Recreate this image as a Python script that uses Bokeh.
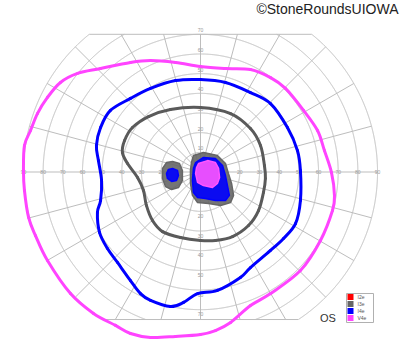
import numpy as np
from bokeh.plotting import figure
from bokeh.models import Range1d
from bokeh.embed import file_html
from bokeh.resources import INLINE
from bokeh.core.properties import value

# ---------------- data (degrees of visual field, x = horizontal, y = vertical) -------------
RINGS = [10, 20, 30, 40, 50, 60, 70, 80, 90]
MERIDIANS = list(range(0, 360, 15))
H_TICKS = [20, 30, 40, 50, 60, 70, 80, 90]
V_TICKS = [10, 20, 30, 40, 50, 60, 70]

V4E_X = [-89.5, -86.4, -82.9, -77.8, -71.2, -62.5, -50.8, -35.6, -25.4, -12.7, 0.0, 12.7, 25.4,
         35.6, 43.2, 52.4, 59.5, 63.0, 66.6, 68.1, 67.1, 61.0, 50.8, 35.6, 25.4, 15.3, 7.6, 0.0,
         -12.7, -25.4, -35.6, -43.2, -54.4, -66.1, -77.8, -83.9, -87.4, -89.5, -90.0]
V4E_Y = [13.5, 21.1, 29.7, 37.9, 45.5, 50.1, 52.6, 55.7, 56.7, 55.7, 53.6, 52.6, 52.1,
         48.0, 42.5, 31.3, 21.1, 10.9, -0.3, -11.9, -19.6, -34.8, -50.1, -61.8, -67.9, -76.5, -80.6, -82.6,
         -83.6, -84.1, -82.1, -78.0, -71.9, -61.8, -45.0, -32.3, -23.1, -9.4, 0.8]

I4E_X = [-35.6, -25.4, -12.7, 0.0, 12.7, 25.4, 35.6, 44.2, 49.3, 50.8, 50.8, 48.3, 42.2, 35.6,
         25.4, 20.3, 8.6, -1.5, -8.6, -15.3, -25.4, -30.5, -35.6, -42.2, -47.3, -51.3, -52.4,
         -50.8, -50.3, -51.9, -52.9, -50.8, -45.8]
I4E_Y = [37.4, 42.5, 46.5, 47.0, 45.5, 40.4, 34.8, 22.6, 10.9, 0.8, -14.5, -26.2, -33.8, -39.9,
         -48.6, -53.6, -60.2, -61.8, -66.3, -68.4, -65.3, -61.8, -55.2, -46.0, -38.9, -30.8, -20.6,
         -14.5, -4.3, 5.8, 13.5, 22.6, 31.3]

I3E_X = [0.0, 15.3, 25.4, 30.5, 32.5, 33.0, 32.0, 29.5, 24.4, 16.3, 7.6, 0.0, -10.2, -19.3,
         -24.4, -27.5, -29.0, -32.0, -37.1, -39.7, -38.6, -34.6, -26.4, -15.3]
I3E_Y = [32.8, 29.7, 22.1, 13.5, 3.3, -3.3, -10.4, -19.6, -27.2, -32.8, -34.8, -34.8, -33.3, -30.3,
         -24.7, -17.0, -9.4, -2.8, 4.3, 9.9, 16.0, 22.6, 28.2, 31.8]

# scotomas
I3E_BLIND_X = [-14.2, -10.7, -9.2, -9.2, -11.2, -14.7, -17.8, -19.3, -19.3, -17.3]
I3E_BLIND_Y = [5.3, 4.3, 0.8, -4.3, -7.9, -8.9, -7.4, -3.3, 1.8, 4.8]
I4E_BLIND_X = [-14.2, -11.7, -11.2, -12.2, -14.7, -16.8, -17.3, -16.3]
I4E_BLIND_Y = [1.8, 0.8, -1.8, -4.3, -4.8, -3.3, -0.8, 1.3]

I3E_CENTRAL_X = [-3.6, 1.5, 8.6, 12.7, 14.2, 15.8, 16.8, 15.3, 10.2, 4.1, -1.5, -4.1, -5.1, -5.1, -4.6]
I3E_CENTRAL_Y = [8.4, 9.9, 8.4, 4.3, -0.8, -5.8, -11.9, -15.5, -17.0, -16.0, -15.5, -11.9, -5.8, 0.8, 4.8]
I4E_CENTRAL_X = [-2.5, 1.5, 7.6, 11.2, 12.7, 13.7, 14.7, 12.7, 7.6, 2.5, -1.5, -3.6, -4.1, -3.6]
I4E_CENTRAL_Y = [4.8, 7.4, 6.9, 3.3, -1.8, -6.9, -11.9, -14.5, -14.5, -13.5, -13.0, -10.4, -4.3, 1.8]
V4E_CENTRAL_X = [-1.0, 3.6, 7.6, 9.2, 9.7, 8.6, 6.1, 1.5, -1.5, -2.5, -2.0]
V4E_CENTRAL_Y = [4.3, 5.8, 4.8, 1.8, -2.8, -5.8, -7.9, -6.9, -5.3, -0.8, 2.3]

LEGEND_LABELS = ["I2e", "I3e", "I4e", "V4e"]
LEGEND_COLORS = ["#ff0000", "#666666", "#0000ff", "#ff44ff"]
EYE = "OS"
CREDIT = "\u00a9StoneRoundsUIOWA"

# ---------------- layout -------------
W, H = 400, 352
S = 1.967            # pixels per degree
CX, CY = 200.0, 171.5
TOP, BOTTOM, OUTER = 70.0, 75.0, 90.0

def dx(px):
    return (px - CX) / S

def dy(py):
    return (CY - py) / S

p = figure(width=W, height=H, x_range=Range1d(dx(0), dx(W)), y_range=Range1d(dy(H), dy(0)),
           output_backend="svg", toolbar_location=None, min_border=0,
           x_axis_type=None, y_axis_type=None)
p.outline_line_color = None
p.background_fill_color = "white"
p.border_fill_color = "white"

FONT = value("Liberation Sans")
GRID = "#bdbdbd"
LBL = "#9a9a9a"

# grid
gx, gy = [], []
t = np.linspace(0, 2 * np.pi, 2881)
for r in RINGS:
    x = r * np.cos(t)
    y = r * np.sin(t)
    ok = (y <= TOP + 1e-9) & (y >= -BOTTOM - 1e-9)
    start = None
    for i, v in enumerate(ok):
        if v and start is None:
            start = i
        if (not v or i == len(ok) - 1) and start is not None:
            end = i + 1 if v else i
            gx.append(list(x[start:end]))
            gy.append(list(y[start:end]))
            start = None
for a in MERIDIANS:
    th = np.radians(a)
    sn = np.sin(th)
    rmax = OUTER
    if sn > 1e-9:
        rmax = min(rmax, TOP / sn)
    if sn < -1e-9:
        rmax = min(rmax, BOTTOM / -sn)
    gx.append([0, rmax * np.cos(th)])
    gy.append([0, rmax * np.sin(th)])
xt = np.sqrt(OUTER ** 2 - TOP ** 2)
xb = np.sqrt(OUTER ** 2 - BOTTOM ** 2)
gx += [[-xt, xt], [-xb, xb]]
gy += [[TOP, TOP], [-BOTTOM, -BOTTOM]]
p.multi_line(gx, gy, line_color=GRID, line_width=1)

# tick labels
hx = [-t for t in H_TICKS] + H_TICKS
p.text(x=hx, y=[0] * len(hx), text=[str(t) for t in H_TICKS] * 2, text_font=FONT,
       text_font_size="5px", text_align="center", text_baseline="middle", text_color=LBL)
vy = [t + 2.0 for t in V_TICKS] + [-(t + 2.3) for t in V_TICKS]
p.text(x=[0] * len(vy), y=vy, text=[str(t) for t in V_TICKS] * 2, text_font=FONT,
       text_font_size="5px", text_align="center", text_baseline="middle", text_color=LBL)


def smooth_closed(xs, ys):
    """Bezier control points (Catmull-Rom) for a closed curve through the read points."""
    px = np.array(xs, float)
    py = np.array(ys, float)
    n = len(px)
    x0, y0, x1, y1, cx0, cy0, cx1, cy1 = ([] for _ in range(8))
    for i in range(n):
        a, b, c, d = (i - 1) % n, i, (i + 1) % n, (i + 2) % n
        x0.append(px[b]); y0.append(py[b]); x1.append(px[c]); y1.append(py[c])
        cx0.append(px[b] + (px[c] - px[a]) / 6); cy0.append(py[b] + (py[c] - py[a]) / 6)
        cx1.append(px[c] - (px[d] - px[b]) / 6); cy1.append(py[c] - (py[d] - py[b]) / 6)
    return dict(x0=x0, y0=y0, x1=x1, y1=y1, cx0=cx0, cy0=cy0, cx1=cx1, cy1=cy1)


def closed(a):
    return list(a) + [a[0]]

# scotoma fills
FILL_A = 0.9
p.patch(closed(I3E_BLIND_X), closed(I3E_BLIND_Y), fill_color="#666666", fill_alpha=FILL_A,
        line_color="#666666", line_width=1.5, line_join="round")
p.patch(closed(I4E_BLIND_X), closed(I4E_BLIND_Y), fill_color="#0000ff", fill_alpha=FILL_A,
        line_color="#0000ff", line_width=1.5, line_join="round")
p.patch(closed(I3E_CENTRAL_X), closed(I3E_CENTRAL_Y), fill_color="#666666", fill_alpha=FILL_A,
        line_color="#666666", line_width=1.5, line_join="round")
p.patch(closed(I4E_CENTRAL_X), closed(I4E_CENTRAL_Y), fill_color="#0000ff", fill_alpha=FILL_A,
        line_color="#0000ff", line_width=1.5, line_join="round")
p.patch(closed(V4E_CENTRAL_X), closed(V4E_CENTRAL_Y), fill_color="#ff55ff", fill_alpha=FILL_A,
        line_color="#ff55ff", line_width=1.5, line_join="round")

# isopters (smooth curves through the read points)
for xs, ys, col in [(I3E_X, I3E_Y, "#5a5a5a"), (I4E_X, I4E_Y, "#0000ff"), (V4E_X, V4E_Y, "#ff44ff")]:
    b = smooth_closed(xs, ys)
    p.bezier(x0=b["x0"], y0=b["y0"], x1=b["x1"], y1=b["y1"], cx0=b["cx0"], cy0=b["cy0"],
             cx1=b["cx1"], cy1=b["cy1"], line_color=col, line_width=3, line_cap="round")

# legend box
p.quad(left=dx(346), right=dx(373), top=dy(293), bottom=dy(322), fill_color="white",
       line_color="#b0b0b0", line_width=1)
ly = [dy(296.5 + 7 * i) for i in range(len(LEGEND_LABELS))]
p.rect(x=[dx(350)] * len(ly), y=ly, width=6 / S, height=6 / S, fill_color=LEGEND_COLORS,
       line_color=None)
p.text(x=[dx(357)] * len(ly), y=ly, text=LEGEND_LABELS, text_font=FONT, text_font_size="5px",
       text_align="left", text_baseline="middle", text_color="#555555")

p.text(x=[dx(327.5)], y=[dy(317)], text=[EYE], text_font=FONT, text_font_size="11px",
       text_align="center", text_baseline="middle", text_color="#333333")
p.text(x=[dx(398)], y=[dy(8)], text=[CREDIT], text_font=FONT, text_font_size="14px",
       text_align="right", text_baseline="middle", text_color="#222222")

open("out.html", "w").write(file_html(p, INLINE))
